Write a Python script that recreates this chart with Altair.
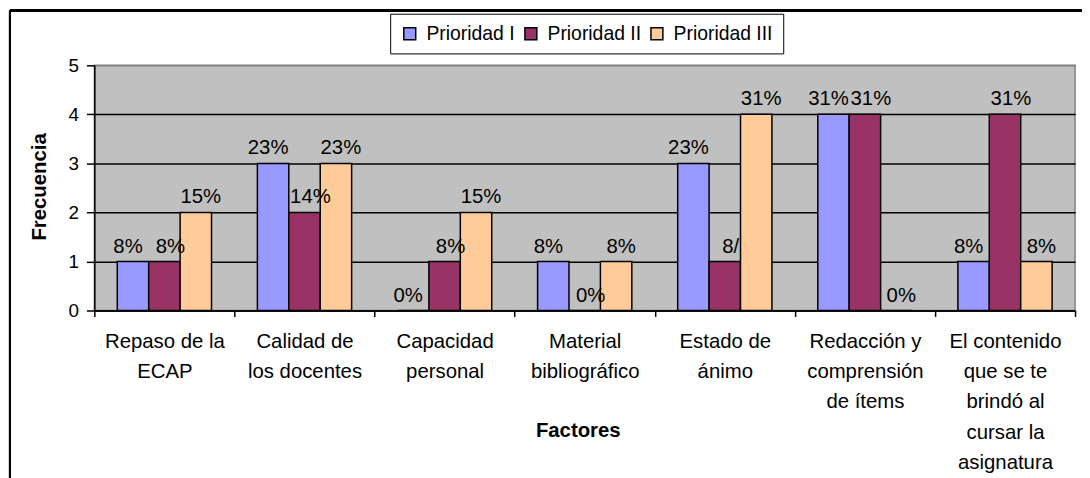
import altair as alt
import pandas as pd

categories = [
    "Repaso de la\nECAP",
    "Calidad de\nlos docentes",
    "Capacidad\npersonal",
    "Material\nbibliográfico",
    "Estado de\nánimo",
    "Redacción y\ncomprensión\nde ítems",
    "El contenido\nque se te\nbrindó al\ncursar la\nasignatura",
]
series_names = ["Prioridad I", "Prioridad II", "Prioridad III"]
prioridad_1 = [1, 3, 0, 1, 3, 4, 1]
prioridad_2 = [1, 2, 1, 0, 1, 4, 4]
prioridad_3 = [2, 3, 2, 1, 4, 0, 1]
labels_1 = ["8%", "23%", "0%", "8%", "23%", "31%", "8%"]
labels_2 = ["8%", "14%", "8%", "0%", "8/", "31%", "31%"]
labels_3 = ["15%", "23%", "15%", "8%", "31%", "0%", "8%"]
colors = ["#9999FF", "#993366", "#FFCC99"]

rows = []
for s, vals, labs in zip(series_names, [prioridad_1, prioridad_2, prioridad_3],
                         [labels_1, labels_2, labels_3]):
    for c, v, l in zip(categories, vals, labs):
        rows.append({"Factor": c, "Serie": s, "Valor": v, "Etiqueta": l})
df = pd.DataFrame(rows)

FONT = "Liberation Sans"
FS = 20.5

x_enc = alt.X(
    "Factor:N",
    sort=categories,
    scale=alt.Scale(paddingInner=0, paddingOuter=0),
    axis=alt.Axis(
        title="Factores",
        titleFont=FONT, titleFontSize=FS, titleFontWeight="bold", titleColor="black",
        titleX=487, titleY=121, titleBaseline="middle", titleAlign="center",
        labelExpr="split(datum.label, '\\n')",
        labelFont=FONT, labelFontSize=FS, labelColor="black", labelAngle=0,
        labelLineHeight=30.5, labelPadding=15, labelLimit=0, labelBaseline="top",
        tickBand="extent", tickSize=6, tickColor="black", tickWidth=1.5,
        domainColor="black", domainWidth=1.5, grid=False,
    ),
)
xoff_enc = alt.XOffset(
    "Serie:N", sort=series_names,
    scale=alt.Scale(paddingInner=0, paddingOuter=0.73),
)
y_enc = alt.Y(
    "Valor:Q",
    scale=alt.Scale(domain=[0, 5], nice=False, zero=True),
    axis=alt.Axis(
        title="Frecuencia",
        titleFont=FONT, titleFontSize=FS, titleFontWeight="bold", titleColor="black",
        titleX=-55, titleY=122, titleAngle=270, titleAlign="center", titleBaseline="middle",
        values=[0, 1, 2, 3, 4, 5],
        labelFont=FONT, labelFontSize=19, labelColor="black", labelPadding=8,
        tickSize=8, tickColor="black", tickWidth=1.5,
        domainColor="black", domainWidth=1.5,
        grid=True, gridWidth=1.5,
        gridColor={"condition": {"test": "datum.value == 5", "value": "#808080"}, "value": "black"},
    ),
)

bars = alt.Chart(df).mark_bar(stroke="black", strokeWidth=1.5).encode(
    x=x_enc,
    xOffset=xoff_enc,
    y=y_enc,
    color=alt.Color(
        "Serie:N", sort=series_names,
        scale=alt.Scale(domain=series_names, range=colors),
        legend=alt.Legend(
            title=None, orient="none", legendX=298, legendY=-52,
            direction="horizontal", columns=3,
            labelFont=FONT, labelFontSize=19.5, labelColor="black",
            symbolType="square", symbolSize=144, symbolStrokeColor="black",
            symbolStrokeWidth=1.5, symbolOpacity=1,
            labelOffset=7, columnPadding=6,
            padding=10, strokeColor="black", fillColor="white",
        ),
    ),
)

label_shift = {"Prioridad I": -5, "Prioridad II": 6, "Prioridad III": 5}
text_layers = []
for s in series_names:
    text_layers.append(
        alt.Chart(df).transform_filter(alt.datum.Serie == s).mark_text(
            font=FONT, fontSize=FS, color="black", baseline="bottom", dy=-5, dx=label_shift[s]
        ).encode(
            x=alt.X("Factor:N", sort=categories),
            xOffset=alt.XOffset("Serie:N", sort=series_names),
            y=alt.Y("Valor:Q"),
            text="Etiqueta:N",
        )
    )

border_top = alt.Chart(df).mark_rule(color="black", strokeWidth=2).encode(
    x=alt.value(-85), x2=alt.value(1000), y=alt.value(-55)
)
border_left = alt.Chart(df).mark_rule(color="black", strokeWidth=2).encode(
    x=alt.value(-85), y=alt.value(-55), y2=alt.value(420)
)

chart = alt.layer(bars, *text_layers, border_top, border_left).properties(
    width=988, height=247,
    padding={"left": 87, "top": 56, "right": 7, "bottom": 167},
    autosize=alt.AutoSizeParams(type="none"),
    background="white",
).configure_view(
    fill="#C0C0C0", stroke="#808080", strokeWidth=1.5
)

chart.save("out.html", embed_options={"renderer": "svg", "actions": False})
